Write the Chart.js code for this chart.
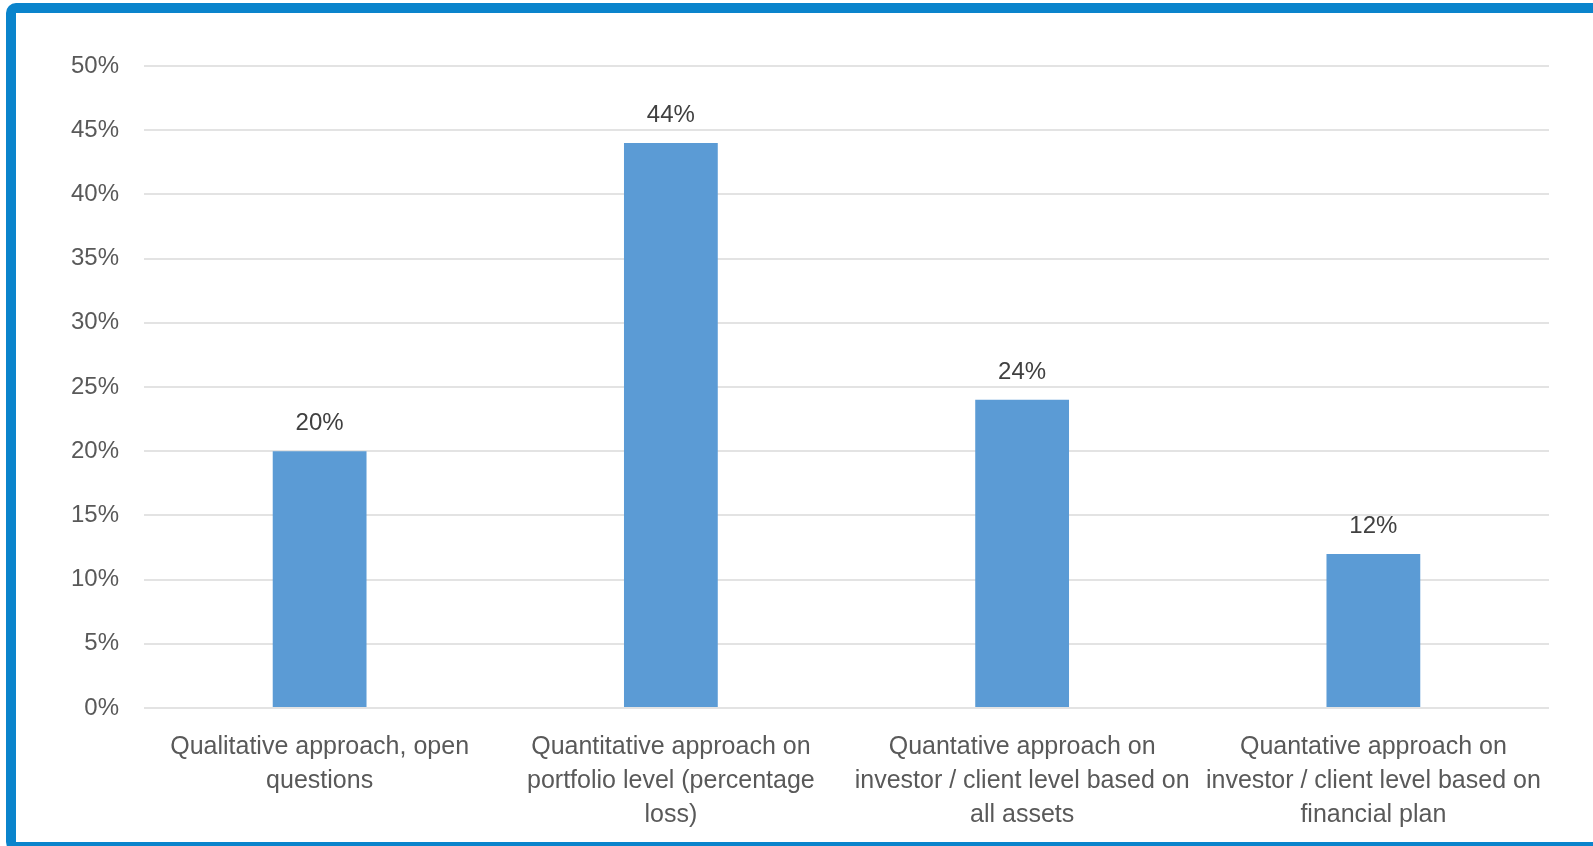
<!DOCTYPE html>
<html>
<head>
<meta charset="utf-8">
<script src="https://cdn.jsdelivr.net/npm/chart.js@4/dist/chart.umd.min.js"></script>
<style>
  html, body { margin: 0; padding: 0; background: #ffffff; overflow: hidden; }
  #wrap { position: relative; width: 1593px; height: 846px; }
  #chart { position: absolute; left: 0; top: 0; }
  #frame {
    position: absolute; left: 6px; top: 3px; width: 1640px; height: 849px;
    box-sizing: border-box; border: 10px solid #0A84CC;
    border-radius: 10px 0 0 10px; pointer-events: none;
  }
</style>
</head>
<body>
<div id="wrap">
  <canvas id="chart" width="1593" height="846"></canvas>
  <div id="frame"></div>
</div>
<script>
// Survey answers: how risk tolerance is assessed
const categories = [
  ["Qualitative approach, open", "questions"],
  ["Quantitative approach on", "portfolio level (percentage", "loss)"],
  ["Quantative approach on", "investor / client level based on", "all assets"],
  ["Quantative approach on", "investor / client level based on", "financial plan"]
];
const shares = [20, 44, 24, 12];
const yTicks = [0, 5, 10, 15, 20, 25, 30, 35, 40, 45, 50];

const FONT = "'Liberation Sans', Arial, sans-serif";

// Percentage labels above each bar
const valueLabels = {
  id: 'valueLabels',
  afterDatasetsDraw(chart) {
    const ctx = chart.ctx;
    const meta = chart.getDatasetMeta(0);
    ctx.save();
    ctx.font = '24px ' + FONT;
    ctx.fillStyle = '#404040';
    ctx.textAlign = 'center';
    ctx.textBaseline = 'alphabetic';
    meta.data.forEach((bar, i) => {
      ctx.fillText(shares[i] + '%', bar.x, bar.y - 21);
    });
    ctx.restore();
  }
};

new Chart(document.getElementById('chart'), {
  type: 'bar',
  data: {
    labels: categories,
    datasets: [{
      data: shares,
      backgroundColor: '#5B9BD5',
      borderWidth: 0,
      categoryPercentage: 1,
      barPercentage: 0.267
    }]
  },
  options: {
    responsive: false,
    animation: false,
    layout: { padding: { top: 66, right: 44, left: 0, bottom: 0 } },
    plugins: { legend: { display: false }, tooltip: { enabled: false } },
    scales: {
      y: {
        min: 0, max: 50,
        afterFit(scale) { scale.width = 144; },
        afterBuildTicks(scale) { scale.ticks = yTicks.map(v => ({ value: v })); },
        border: { display: false },
        grid: { color: '#E3E3E3', lineWidth: 2, drawTicks: false },
        ticks: {
          padding: 25,
          color: '#595959',
          font: { family: FONT, size: 24 },
          callback: v => v + '%'
        }
      },
      x: {
        afterFit(scale) { scale.height = 138; },
        border: { display: false },
        grid: { display: false, drawTicks: false },
        ticks: {
          padding: 22,
          maxRotation: 0,
          autoSkip: false,
          color: '#595959',
          font: { family: FONT, size: 25, lineHeight: 1.36 }
        }
      }
    }
  },
  plugins: [valueLabels]
});
</script>
</body>
</html>
